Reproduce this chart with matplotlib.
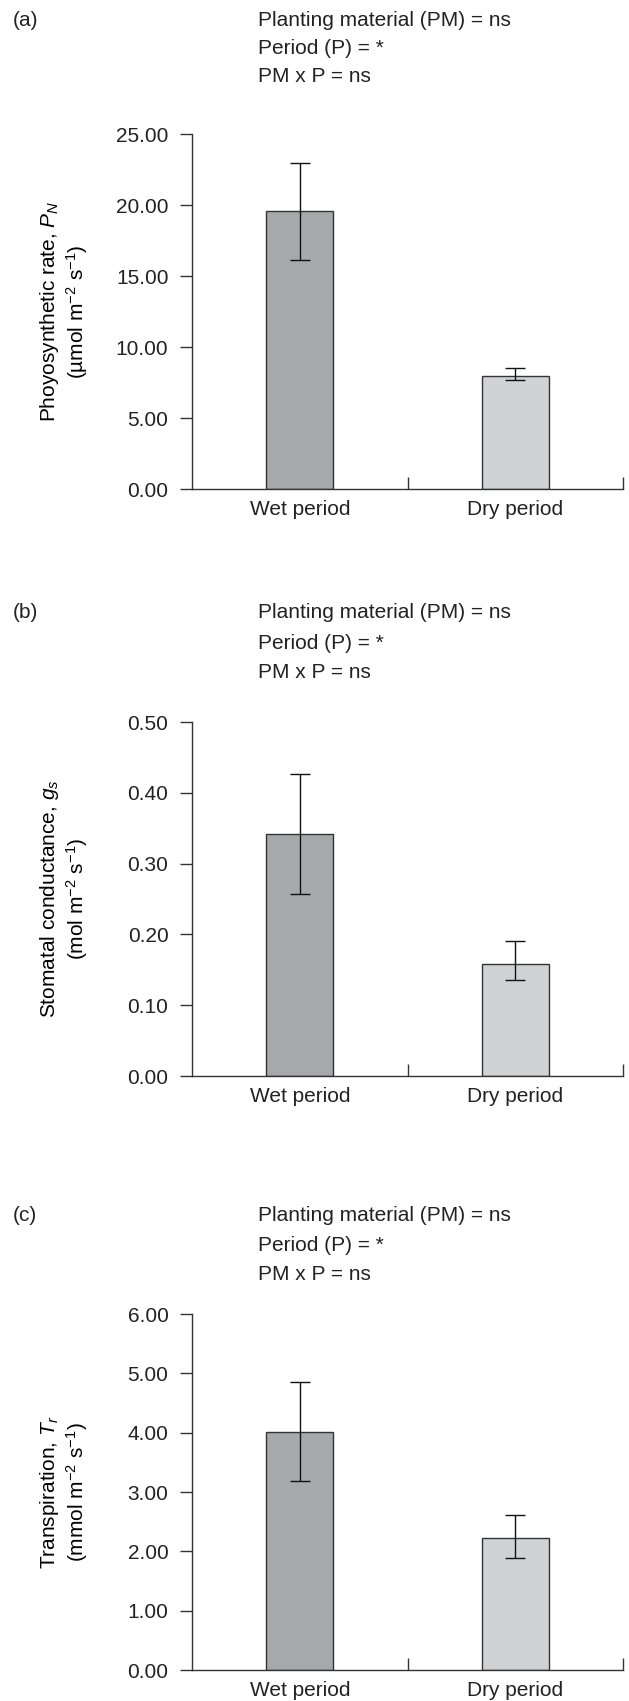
import numpy as np
import matplotlib
matplotlib.use("Agg")
import matplotlib.pyplot as plt

plt.rcParams['font.family'] = ['Liberation Sans', 'DejaVu Sans']
plt.rcParams['mathtext.fontset'] = 'custom'
plt.rcParams['mathtext.rm'] = 'Liberation Sans'
plt.rcParams['mathtext.it'] = 'Liberation Sans:italic'
plt.rcParams['text.color'] = '#222222'
plt.rcParams['xtick.labelcolor'] = '#222222'
plt.rcParams['ytick.labelcolor'] = '#222222'

# data
periods = ["Wet period", "Dry period"]
bar_colors = ["#a7a8ab", "#d1d2d4"]

pn_mean = [19.55, 7.98]
pn_low = [16.15, 7.70]
pn_high = [22.98, 8.54]

gs_mean = [0.342, 0.158]
gs_low = [0.257, 0.135]
gs_high = [0.427, 0.191]

tr_mean = [4.01, 2.23]
tr_low = [3.19, 1.89]
tr_high = [4.86, 2.62]

stats_lines = ["Planting material (PM) = ns", "Period (P) = *", "PM x P = ns"]

W, H = 629, 1701
fig = plt.figure(figsize=(W / 100, H / 100), dpi=100)

edge = "#333333"
fs = 15

panels = [
    # letter, mean, low, high, ymax, yticks, ylabel, axis top px, axis bottom px, text y px
    ("(a)", pn_mean, pn_low, pn_high, 25, np.arange(0, 25.01, 5),
     "Phoyosynthetic rate, $P_N$\n(\u00b5mol m$^{-2}$ s$^{-1}$)", 134, 489, [20, 48, 77]),
    ("(b)", gs_mean, gs_low, gs_high, 0.5, np.arange(0, 0.501, 0.1),
     "Stomatal conductance, $g_s$\n(mol m$^{-2}$ s$^{-1}$)", 722, 1076, [613, 643, 673]),
    ("(c)", tr_mean, tr_low, tr_high, 6, np.arange(0, 6.01, 1),
     "Transpiration, $T_r$\n(mmol m$^{-2}$ s$^{-1}$)", 1314, 1670, [1215, 1245, 1274]),
]

x = np.array([0.5, 1.5])
for letter, mean, low, high, ymax, yt, ylab, top, bot, ty in panels:
    ax = fig.add_axes([192 / W, 1 - bot / H, 431 / W, (bot - top) / H])
    mean = np.array(mean)
    yerr = [mean - np.array(low), np.array(high) - mean]
    ax.bar(x, mean, width=0.31, color=bar_colors, edgecolor=edge, linewidth=1.0, zorder=2)
    ax.errorbar(x, mean, yerr=yerr, fmt='none', ecolor="#111111", elinewidth=1.0,
                capsize=7.5, capthick=1.0, zorder=3)
    ax.set_xlim(0, 2)
    ax.set_ylim(0, ymax)
    ax.set_yticks(yt)
    ax.set_yticklabels(["%.2f" % v for v in yt])
    ax.set_xticks([1, 2])
    ax.set_xticklabels([])
    ax.set_xticks(x, minor=True)
    ax.set_xticklabels(periods, minor=True)
    ax.tick_params(axis='x', which='major', direction='in', length=9, width=1.0, color=edge)
    ax.tick_params(axis='x', which='minor', length=0, pad=8, labelsize=fs)
    ax.tick_params(axis='y', direction='out', length=9, width=1.0, color=edge, pad=8, labelsize=fs)
    for s in ['top', 'right']:
        ax.spines[s].set_visible(False)
    for s in ['left', 'bottom']:
        ax.spines[s].set_color(edge)
        ax.spines[s].set_linewidth(1.0)
    ax.set_ylabel(ylab, fontsize=fs, linespacing=1.15, va='center')
    ax.yaxis.set_label_coords(-0.297, 0.5)

    fig.text(13 / W, 1 - ty[0] / H, letter, fontsize=fs, va='center', ha='left')
    for line, yy in zip(stats_lines, ty):
        fig.text(258 / W, 1 - yy / H, line, fontsize=fs, va='center', ha='left')

fig.savefig("out.png", dpi=100)
